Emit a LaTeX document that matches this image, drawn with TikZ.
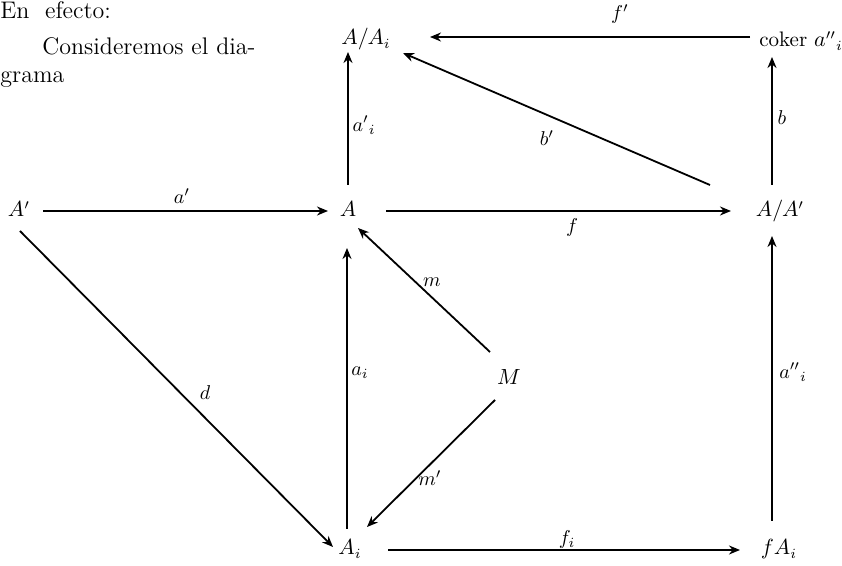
\documentclass[tikz,border=0pt]{standalone}
\usetikzlibrary{arrows.meta,calc}
\begin{document}
\begin{tikzpicture}[x=0.5pt,y=-0.5pt,
  ar/.style={line width=0.9pt,-{Stealth[length=5.5pt,width=4.5pt]}},
  lab/.style={inner sep=0pt,font=\fontsize{10}{12}\selectfont},
  obj/.style={anchor=base,inner sep=0pt,font=\fontsize{10.5}{12}\selectfont},
  body/.style={anchor=base west,inner sep=0pt,font=\fontsize{12}{14}\selectfont}]
\useasboundingbox (0,0) rectangle (842,566);
% body text
\node[body] (t1) at (0,19) {En\ \ efecto:};
\node[body] (t2) at (42,55) {Consideremos el dia-};
\node[body] (t3) at (0,83) {grama};
% objects
\node[obj] (AAi) at (366,45) {$A/A_i$};
\node[obj] (coker) at (801,47) {coker $a''{}_i$};
\node[obj] (Ap) at (19,217) {$A'$};
\node[obj] (A) at (348,217) {$A$};
\node[obj] (AAp) at (780,217) {$A/A'$};
\node[obj] (M) at (509,385) {$M$};
\node[obj] (Ai) at (350,555) {$A_i$};
\node[obj] (fAi) at (779,555) {$fA_i$};
% arrows
\draw[ar] ($(coker.base)+(-51,-10)$) -- ($(AAi.base)+(64,-8)$);
\draw[ar] ($(A.base)+(0,-32)$) -- ($(AAi.base)+(-18,7)$);
\draw[ar] ($(AAp.base)+(-70,-32)$) -- ($(AAi.base)+(37,8)$);
\draw[ar] ($(AAp.base)+(-8,-32)$) -- ($(coker.base)+(-29,10)$);
\draw[ar] ($(Ap.base)+(24,-6)$) -- ($(A.base)+(-20,-6)$);
\draw[ar] ($(A.base)+(38,-6)$) -- ($(AAp.base)+(-49,-6)$);
\draw[ar] ($(M.base)+(-19,-33)$) -- ($(A.base)+(10,11)$);
\draw[ar] ($(Ai.base)+(-3,-26)$) -- ($(A.base)+(-1,31)$);
\draw[ar] ($(Ap.base)+(1,14)$) -- ($(Ai.base)+(-17,-8)$);
\draw[ar] ($(M.base)+(-14,15)$) -- ($(Ai.base)+(17,-28)$);
\draw[ar] ($(fAi.base)+(-7,-34)$) -- ($(AAp.base)+(-8,19)$);
\draw[ar] ($(Ai.base)+(38,-5)$) -- ($(fAi.base)+(-39,-5)$);
% labels
\node[lab] (lfp) at (620,14) {$f'$};
\node[lab] (lapi) at (364,125) {$a'{}_i$};
\node[lab] (lbp) at (547,138) {$b'$};
\node[lab] (lb) at (782,118) {$b$};
\node[lab] (lap) at (182,196) {$a'$};
\node[lab] (lf) at (572,228) {$f$};
\node[lab] (lm) at (432,282) {$m$};
\node[lab] (lai) at (360,373) {$a_i$};
\node[lab] (ld) at (205,393) {$d$};
\node[lab] (lappi) at (793,372) {$a''{}_i$};
\node[lab] (lmp) at (430,478) {$m'$};
\node[lab] (lfi) at (567,540) {$f_i$};
\end{tikzpicture}
\end{document}
